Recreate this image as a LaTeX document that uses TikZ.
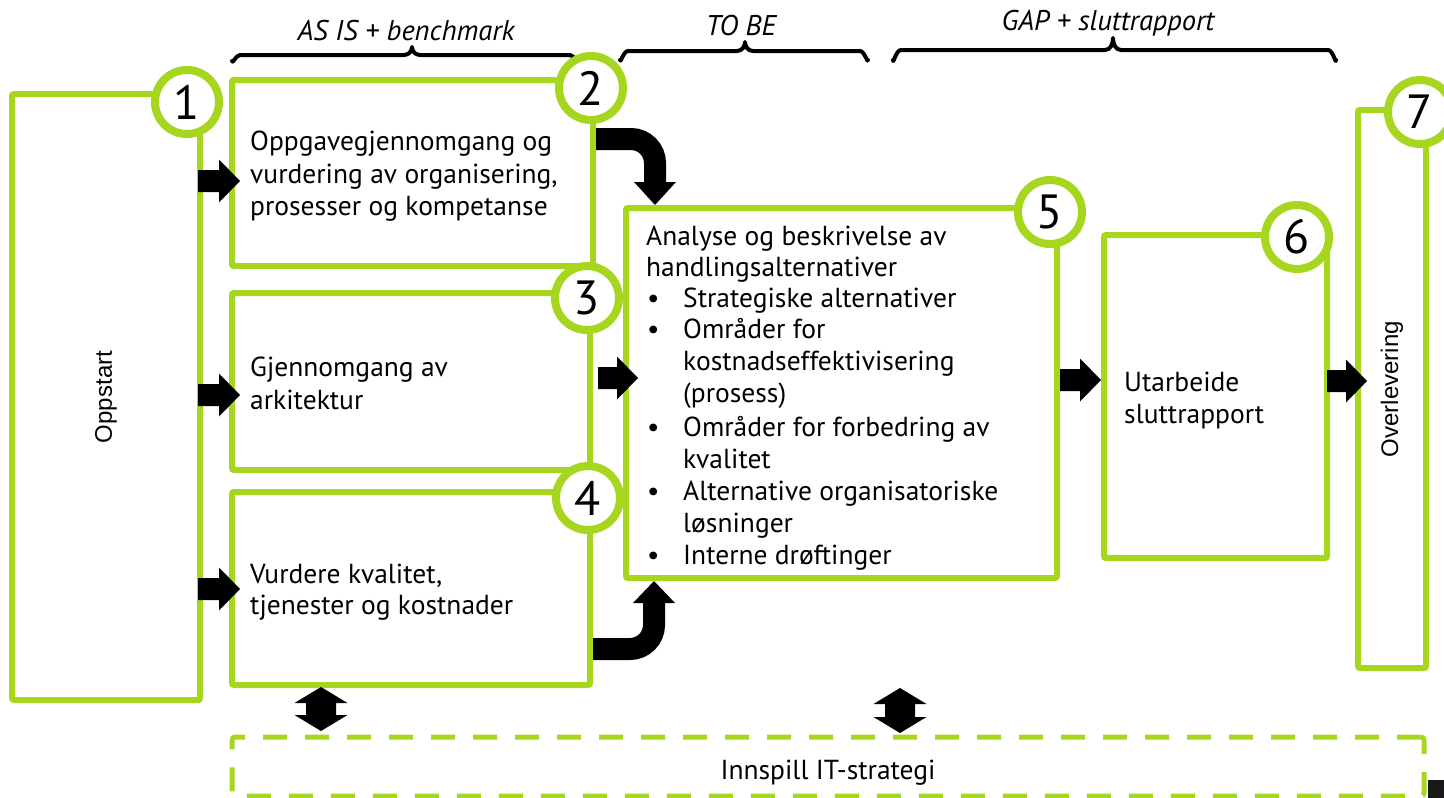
\documentclass[tikz,border=0pt]{standalone}
\usepackage{fontspec}
\setmainfont{PT Sans}
\newfontfamily\arialf{Liberation Sans}
\usetikzlibrary{calc}
\definecolor{lg}{RGB}{166,214,30}
\newcommand\harrow[2]{\fill ($(#1)+(0,-11)$) -- ($(#2)+(-21,-11)$) -- ($(#2)+(-21,-21.5)$) -- (#2) -- ($(#2)+(-21,21.5)$) -- ($(#2)+(-21,11)$) -- ($(#1)+(0,11)$) -- cycle;}
\newcommand\varrow[2]{\fill (#1) -- ($(#1)+(26.5,16)$) -- ($(#1)+(15,16)$) -- ($(#2)+(15,-16)$) -- ($(#2)+(26.5,-16)$) -- (#2) -- ($(#2)+(-26.5,-16)$) -- ($(#2)+(-15,-16)$) -- ($(#1)+(-15,16)$) -- ($(#1)+(-26.5,16)$) -- cycle;}
\begin{document}
\begin{tikzpicture}[x=1pt,y=-1pt,
  gbox/.style={draw=lg, line width=6pt, rectangle, rounded corners=2pt, inner sep=0pt, fill=white},
  dbox/.style={draw=lg, line width=5pt, rectangle, rounded corners=3pt, inner sep=0pt, dash pattern=on 24pt off 18pt},
  num/.style={circle, draw=lg, line width=8pt, fill=white, minimum size=64pt, inner sep=0pt, font=\fontsize{48}{48}\selectfont},
  txt/.style={anchor=base west, inner sep=0pt, font=\fontsize{27.5}{32}\selectfont},
  lbl/.style={anchor=base, inner sep=0pt, font=\itshape\fontsize{28.5}{30}\selectfont},
  brace/.style={draw=black, line width=4pt, line cap=round, line join=round},
  shaft/.style={draw=black, line width=22pt, line cap=butt, rounded corners=24pt},
]
\useasboundingbox (0,0) rectangle (1444,798);

% braces and labels
\draw[brace] (232,61) to[out=-90,in=180] (240,55) -- (404,55) to[out=0,in=-90] (412,47) to[out=-90,in=180] (420,55) -- (570,55) to[out=0,in=-90] (578,61);
\node[lbl] (l1) at (406,40) {AS IS + benchmark};
\draw[brace] (620,60) to[out=-90,in=180] (628,51) -- (737,51) to[out=0,in=-90] (745,42) to[out=-90,in=180] (753,51) -- (860,51) to[out=0,in=-90] (868,60);
\node[lbl] (l2) at (741,35) {TO BE};
\draw[brace] (893,60) to[out=-90,in=180] (901,50) -- (1105,50) to[out=0,in=-90] (1113,38) to[out=-90,in=180] (1121,50) -- (1328,50) to[out=0,in=-90] (1336,60);
\node[lbl] (l3) at (1108,30) {GAP + sluttrapport};

% boxes
\node[gbox, minimum width=188pt, minimum height=606pt] (b1) at (106,397) {};
\node[gbox, minimum width=361pt, minimum height=186pt] (b2) at (412.5,173) {};
\node[gbox, minimum width=358pt, minimum height=177pt] (b3) at (411,381.5) {};
\node[gbox, minimum width=358pt, minimum height=193pt] (b4) at (411,588.5) {};
\node[gbox, minimum width=431pt, minimum height=370pt] (b5) at (841.5,393) {};
\node[gbox, minimum width=223pt, minimum height=323pt] (b6) at (1215.5,396.5) {};
\node[gbox, minimum width=68pt, minimum height=558pt] (b7) at (1392,389) {};
\node[dbox, minimum width=1192pt, minimum height=59pt] (it) at (828,766.5) {};

% circles
\node[num] (c1) at (187,102) {1};
\node[num] (c2) at (591,88) {2};
\node[num] (c3) at (587,298) {3};
\node[num] (c4) at (588,498) {4};
\node[num] (c5) at (1050,212) {5};
\node[num] (c6) at (1297,237) {6};
\node[num] (c7) at (1420,112) {7};

% texts
\node[rotate=90, inner sep=0pt, font=\arialf\fontsize{24}{28}\selectfont] (t1) at (b1.center) {Oppstart};
\node[rotate=90, inner sep=0pt, font=\arialf\fontsize{24}{28}\selectfont] (t7) at (b7.center) {Overlevering};
\node[txt] (t2a) at (250,150) {Oppgavegjennomgang og};
\node[txt] (t2b) at (250,183) {vurdering av organisering,};
\node[txt] (t2c) at (250,215) {prosesser og kompetanse};
\node[txt] (t3a) at (250,376) {Gjennomgang av};
\node[txt] (t3b) at (250,409) {arkitektur};
\node[txt] (t4a) at (250,583) {Vurdere kvalitet,};
\node[txt] (t4b) at (250,614) {tjenester og kostnader};
\node[txt] (t5a) at (646,245) {Analyse og beskrivelse av};
\node[txt] (t5b) at (646,276) {handlingsalternativer};
\foreach \t/\yy [count=\i] in {{Strategiske alternativer}/307, {Områder for}/338, {kostnadseffektivisering}/370, {(prosess)}/402, {Områder for forbedring av}/436, {kvalitet}/468, {Alternative organisatoriske}/500, {løsninger}/532, {Interne drøftinger}/564}
  \node[txt] (t5l\i) at (683,\yy) {\t};
\foreach \yy [count=\i] in {307,338,436,500,564}
  \node[txt] (t5d\i) at (647,\yy) {•};
\node[txt] (t6a) at (1124,391) {Utarbeide};
\node[txt] (t6b) at (1124,423) {sluttrapport};
\node[anchor=base, inner sep=0pt, font=\fontsize{27.5}{32}\selectfont] (t8) at (828,779) {Innspill IT-strategi};

% straight block arrows
\coordinate (s12) at (198,181); \coordinate (e12) at (240,181);
\coordinate (s13) at (198,395); \coordinate (e13) at (240,395);
\coordinate (s14) at (198,589); \coordinate (e14) at (240,589);
\coordinate (s35) at (598,378); \coordinate (e35) at (638,378);
\coordinate (s56) at (1060,380); \coordinate (e56) at (1101,380);
\coordinate (s67) at (1327,381); \coordinate (e67) at (1367,381);
\harrow{s12}{e12}
\harrow{s13}{e13}
\harrow{s14}{e14}
\harrow{s35}{e35}
\harrow{s56}{e56}
\harrow{s67}{e67}

% curved arrows
\coordinate (ca) at (655,139);
\coordinate (tipa) at (655,205);
\draw[shaft] (b2.east |- ca) -- (ca) -- ($(tipa)+(0,-21)$);
\fill ($(tipa)+(-21,-23)$) -- (tipa) -- ($(tipa)+(21,-23)$) -- cycle;
\coordinate (cb) at (654,649);
\coordinate (tipb) at (654,581);
\draw[shaft] (b4.east |- cb) -- (cb) -- ($(tipb)+(0,21)$);
\fill ($(tipb)+(-21,22)$) -- (tipb) -- ($(tipb)+(21,22)$) -- cycle;

% double arrows
\coordinate (d1t) at (321,687); \coordinate (d1b) at (321,731);
\coordinate (d2t) at (900,688); \coordinate (d2b) at (900,733);
\varrow{d1t}{d1b}
\varrow{d2t}{d2b}

% corner artefact
\fill[black!90] (1428,780) rectangle (1444,798);
\end{tikzpicture}
\end{document}
